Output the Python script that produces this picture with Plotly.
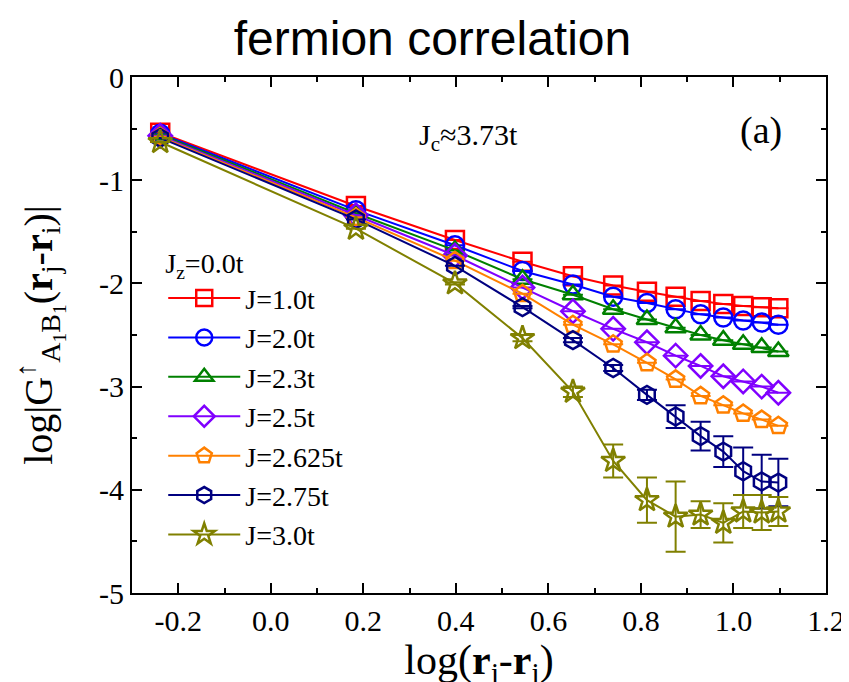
import plotly.graph_objects as go

# ---- data ----
x_vals = [-0.239, 0.184, 0.398, 0.544, 0.653, 0.740, 0.813, 0.875, 0.929, 0.978, 1.021, 1.061, 1.097]

series_names = ["J=1.0t", "J=2.0t", "J=2.3t", "J=2.5t", "J=2.625t", "J=2.75t", "J=3.0t"]

y_J10 = [-0.54, -1.25, -1.58, -1.79, -1.93, -2.02, -2.08, -2.13, -2.17, -2.20, -2.22, -2.23, -2.24]
y_J20 = [-0.55, -1.29, -1.63, -1.88, -2.01, -2.13, -2.19, -2.25, -2.30, -2.33, -2.36, -2.38, -2.40]
y_J23 = [-0.56, -1.32, -1.68, -1.96, -2.11, -2.25, -2.35, -2.43, -2.50, -2.55, -2.59, -2.62, -2.66]
y_J25 = [-0.57, -1.34, -1.73, -2.04, -2.27, -2.44, -2.57, -2.70, -2.80, -2.90, -2.95, -3.00, -3.06]
y_J2625 = [-0.58, -1.36, -1.78, -2.10, -2.40, -2.59, -2.77, -2.93, -3.09, -3.18, -3.26, -3.32, -3.38]
y_J275 = [-0.59, -1.38, -1.83, -2.23, -2.55, -2.82, -3.08, -3.29, -3.48, -3.63, -3.82, -3.92, -3.93]
y_J30 = [-0.63, -1.47, -2.00, -2.53, -3.05, -3.72, -4.10, -4.26, -4.24, -4.32, -4.21, -4.22, -4.21]

err_zero = [0] * 13
err_J275 = [0, 0, 0, 0.01, 0.02, 0.03, 0.05, 0.11, 0.14, 0.15, 0.23, 0.26, 0.23]
err_J30 = [0, 0, 0.01, 0.03, 0.05, 0.16, 0.22, 0.34, 0.13, 0.19, 0.16, 0.17, 0.14]

x_ticks = [-0.2, 0.0, 0.2, 0.4, 0.6, 0.8, 1.0, 1.2]
x_ticklabels = ["-0.2", "0.0", "0.2", "0.4", "0.6", "0.8", "1.0", "1.2"]
y_ticks = [0, -1, -2, -3, -4, -5]
y_ticklabels = ["0", "-1", "-2", "-3", "-4", "-5"]

# ---- styles ----
all_y = [y_J10, y_J20, y_J23, y_J25, y_J2625, y_J275, y_J30]
all_err = [err_zero, err_zero, err_zero, err_zero, err_zero, err_J275, err_J30]
colors = ["#FF0000", "#0000FF", "#008000", "#8000FF", "#FF8000", "#000080", "#808000"]
symbols = ["square-open", "circle-open", "triangle-up-open", "diamond-open",
           "pentagon-open", "hexagon-open", "star-open"]

SERIF = "Liberation Serif"

fig = go.Figure()
for name, ys, errs, c, s in zip(series_names, all_y, all_err, colors, symbols):
    fig.add_trace(go.Scatter(
        x=x_vals, y=ys, name=name, mode="lines+markers",
        line=dict(color=c, width=2),
        marker=dict(symbol=s, size=18, color=c, line=dict(color=c, width=2.5)),
        error_y=dict(type="data", array=errs, visible=True, color=c,
                     thickness=2, width=10),
    ))

fig.update_layout(
    width=849, height=682,
    margin=dict(l=124, r=23, t=69, b=97),
    paper_bgcolor="white", plot_bgcolor="white",
    title=dict(text="fermion correlation", x=0.5, xanchor="center",
               y=0.955, yanchor="middle", yref="container",
               font=dict(family="Liberation Sans", size=48, color="black")),
    font=dict(family=SERIF, color="black"),
    showlegend=True,
    legend=dict(
        x=0.045, y=0.69, xanchor="left", yanchor="top",
        bgcolor="rgba(0,0,0,0)", borderwidth=0,
        font=dict(family=SERIF, size=28, color="black"),
        title=dict(text="J<sub>z</sub>=0.0t", font=dict(family=SERIF, size=28, color="black")),
        tracegroupgap=0, itemwidth=72,
    ),
    annotations=[
        dict(x=0.317, y=-0.58, xref="x", yref="y", xanchor="left", yanchor="middle",
             text="J<sub>c</sub>≈3.73t", showarrow=False,
             font=dict(family=SERIF, size=30, color="black")),
        dict(x=1.06, y=-0.52, xref="x", yref="y", xanchor="center", yanchor="middle",
             text="(a)", showarrow=False,
             font=dict(family=SERIF, size=38, color="black")),
    ],
)

axis_common = dict(
    showline=True, linecolor="black", linewidth=2, mirror="allticks",
    ticks="inside", ticklen=10, tickwidth=2, tickcolor="black",
    showgrid=False, zeroline=False,
    tickfont=dict(family=SERIF, size=30, color="black"),
)

fig.update_xaxes(
    range=[-0.3, 1.2], tickvals=x_ticks, ticktext=x_ticklabels,
    minor=dict(ticks="inside", dtick=0.1, tick0=0, ticklen=5, tickwidth=2, tickcolor="black"),
    title=dict(text="log(<b>r</b><sub>j</sub>-<b>r</b><sub>i</sub>)",
               font=dict(family=SERIF, size=42, color="black"), standoff=2),
    **axis_common,
)
fig.update_yaxes(
    range=[-5, 0], tickvals=y_ticks, ticktext=y_ticklabels,
    minor=dict(ticks="inside", dtick=0.5, tick0=0, ticklen=5, tickwidth=2, tickcolor="black"),
    title=dict(text="log|G<sup>↑</sup><sub>A<sub>1</sub>B<sub>1</sub></sub>(<b>r</b><sub>j</sub>-<b>r</b><sub>i</sub>)|",
               font=dict(family=SERIF, size=40, color="black"), standoff=34),
    **axis_common,
)

fig.write_html("out.html")
